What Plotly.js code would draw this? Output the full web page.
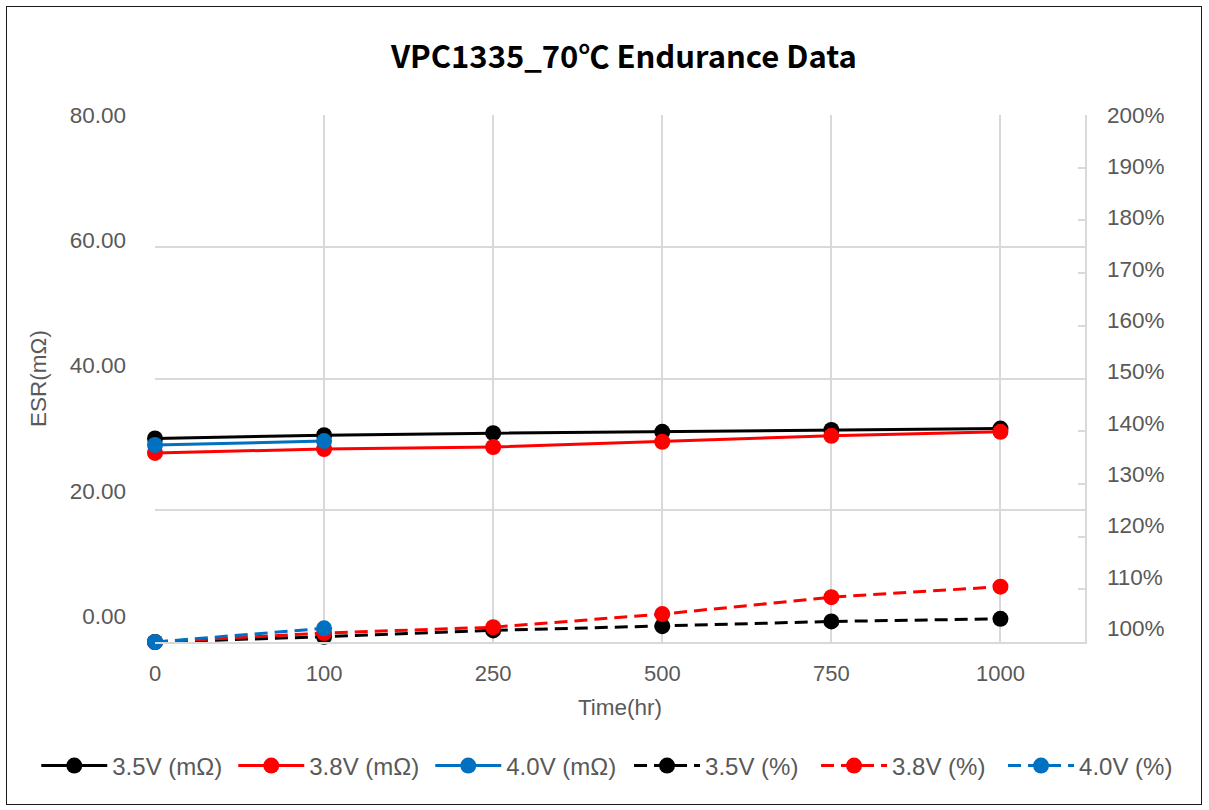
<!DOCTYPE html>
<html>
<head>
<meta charset="utf-8">
<script src="https://cdn.plot.ly/plotly-3.0.1.min.js"></script>
<style>
  html, body { margin: 0; padding: 0; background: #fff; }
  #wrap { position: relative; width: 1209px; height: 810px; }
  #chart { position: absolute; left: 0; top: 0; width: 1209px; height: 810px; }
  #frame { position: absolute; left: 6px; top: 6px; width: 1196px; height: 799px;
           border: 1.5px solid #1a1a1a; pointer-events: none; box-sizing: border-box; }
</style>
</head>
<body>
<div id="wrap">
  <div id="chart"></div>
  <div id="frame"></div>
</div>
<script>
// ---- data ----
const hours = ['0', '100', '250', '500', '750', '1000'];
const hours40 = ['0', '100'];

const esr35 = [30.9, 31.4, 31.7, 31.9, 32.2, 32.4];   // 3.5V (mΩ)
const esr38 = [28.7, 29.3, 29.6, 30.4, 31.3, 31.9];   // 3.8V (mΩ)
const esr40 = [29.9, 30.5];                           // 4.0V (mΩ)

const pct35 = [100, 101.0, 102.2, 103.0, 103.9, 104.4]; // 3.5V (%)
const pct38 = [100, 101.7, 102.8, 105.3, 108.5, 110.5]; // 3.8V (%)
const pct40 = [100, 102.6];                             // 4.0V (%)

const esrTicks = [0, 20, 40, 60, 80];
const pctTicks = [100, 110, 120, 130, 140, 150, 160, 170, 180, 190, 200];
const pctTickText = ['100%', '110%', '120%', '130%', '140%', '150%', '160%', '170%', '180%', '190%', '200%'];

const BLACK = '#000000', RED = '#FF0000', BLUE = '#0070C0';
const GRID = '#d9d9d9', TXT = '#595959';
const FONT = 'Liberation Sans, Arial, sans-serif';

function mk(name, x, y, color, dash, yaxis, legend) {
  return {
    type: 'scatter', mode: 'lines+markers', name: name, x: x, y: y, yaxis: yaxis,
    legend: legend,
    line: { color: color, width: 3, dash: dash },
    marker: { color: color, size: 16, symbol: 'circle' },
    cliponaxis: false
  };
}
// empty holders so the label-only axes get drawn (they carry no marks)
function holder(yaxis) {
  return { type: 'scatter', mode: 'markers', x: [], y: [], yaxis: yaxis,
           showlegend: false, hoverinfo: 'skip' };
}

const traces = [
  mk('3.5V (mΩ)', hours, esr35, BLACK, 'solid', 'y', 'legend'),
  mk('3.8V (mΩ)', hours, esr38, RED, 'solid', 'y', 'legend'),
  mk('4.0V (mΩ)', hours40, esr40, BLUE, 'solid', 'y', 'legend'),
  mk('3.5V (%)', hours, pct35, BLACK, '13px,7px', 'y2', 'legend2'),
  mk('3.8V (%)', hours, pct38, RED, '13px,7px', 'y2', 'legend2'),
  mk('4.0V (%)', hours40, pct40, BLUE, '13px,7px', 'y2', 'legend2'),
  holder('y3'),
  holder('y4')
];

const legendBase = {
  orientation: 'h', xref: 'container', yref: 'container',
  xanchor: 'left', y: 1 - 766 / 810, yanchor: 'middle',
  entrywidthmode: 'pixels', itemwidth: 66,
  font: { size: 24, color: TXT }, bgcolor: 'rgba(0,0,0,0)', traceorder: 'normal'
};

const layout = {
  width: 1209, height: 810,
  margin: { l: 155, r: 124, t: 115, b: 168 },
  paper_bgcolor: 'rgba(0,0,0,0)', plot_bgcolor: '#ffffff',
  font: { family: FONT, color: TXT, size: 22 },
  title: {
    text: 'VPC1335_70℃ Endurance Data',
    font: { family: 'Noto Sans CJK KR, sans-serif', size: 31, color: '#000000', weight: 'bold' },
    x: 0.516, xanchor: 'center', y: 1 - 57 / 810, yanchor: 'middle', xref: 'container', yref: 'container'
  },
  xaxis: {
    type: 'category', categoryorder: 'array', categoryarray: hours,
    range: [0, 5.5],
    showgrid: true, gridcolor: GRID, gridwidth: 2,
    showline: true, linecolor: GRID, linewidth: 2,
    ticks: '', ticklabelstandoff: 11,
    tickfont: { size: 22, color: TXT },
    title: { text: 'Time(hr)', font: { size: 22.5, color: TXT }, standoff: 14 },
    zeroline: false
  },
  yaxis: {
    range: [0, 80], tickvals: esrTicks,
    showgrid: true, gridcolor: GRID, gridwidth: 2,
    showline: false, zeroline: false,
    showticklabels: false, ticks: '',
    title: { text: 'ESR(mΩ)', font: { size: 22.5, color: TXT }, standoff: 101 }
  },
  yaxis2: {
    overlaying: 'y', side: 'right', range: [100, 200], tickvals: pctTicks,
    showgrid: false, zeroline: false,
    showline: true, linecolor: GRID, linewidth: 2,
    ticks: 'inside', ticklen: 7, tickwidth: 2, tickcolor: GRID,
    showticklabels: false
  },
  // label-only axes: reproduce where the reference prints its tick labels
  yaxis3: {
    overlaying: 'y', side: 'left', range: [-4.15, 80], tickvals: esrTicks,
    tickformat: '.2f', showgrid: false, zeroline: false, showline: false,
    ticks: '', ticklabelstandoff: 28, tickfont: { size: 22.5, color: TXT }
  },
  yaxis4: {
    overlaying: 'y', side: 'right', range: [97.27, 200],
    tickmode: 'array', tickvals: pctTicks, ticktext: pctTickText,
    showgrid: false, zeroline: false, showline: false,
    ticks: '', ticklabelstandoff: 21, tickfont: { size: 22.5, color: TXT }
  },
  showlegend: true,
  legend: Object.assign({}, legendBase, { x: 0.03, entrywidth: 116 }),
  legend2: Object.assign({}, legendBase, { x: 0.5203, entrywidth: 106 })
};

Plotly.newPlot('chart', traces, layout, { displayModeBar: false, staticPlot: true });
</script>
</body>
</html>
